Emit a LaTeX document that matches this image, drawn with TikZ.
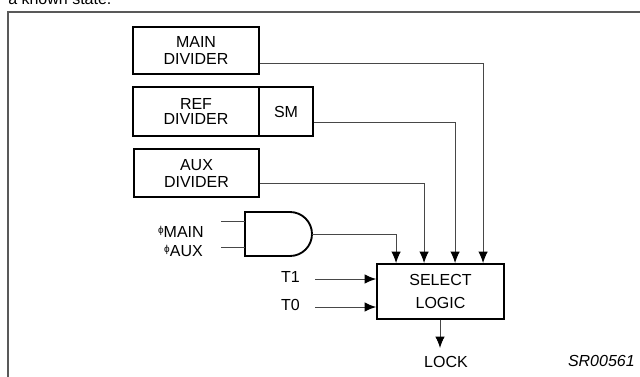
\documentclass[tikz,border=0pt]{standalone}
\usepackage{fontspec}
\setmainfont{Liberation Sans}
\usetikzlibrary{arrows.meta,calc}
\begin{document}
\begin{tikzpicture}[x=0.75pt,y=-0.75pt,
  box/.style={draw,line width=1.4pt,inner sep=0pt,align=center,
    font=\fontsize{12}{12.75}\selectfont},
  conn/.style={draw=black!72,line width=0.7pt},
  arr/.style={conn,-{Latex[length=8.5pt,width=7pt,black]}},
  lbl/.style={inner sep=0pt,font=\fontsize{12}{13}\selectfont},
  frame/.style={draw=black!65,line width=1.1pt},
  gate/.style={draw,line width=1.4pt}]
\useasboundingbox (0,0) rectangle (640,376);
\clip (0,0) rectangle (640,376);
% partial caption text at the top
\node[lbl,anchor=base west] (cap) at (8,4.5) {a known state.};
% frame
\coordinate (fbl) at (8,390);
\coordinate (ftl) at (8,12);
\coordinate (ftr) at (660,12);
\draw[frame] (fbl) -- (ftl) -- (ftr);
% boxes
\node[box,minimum width=94.5pt,minimum height=35.25pt] (main) at (196,50.5) {MAIN\\DIVIDER};
\node[box,minimum width=94.5pt,minimum height=36.75pt,font=\fontsize{12}{11.6}\selectfont] (ref) at (196,111.5) {REF\\DIVIDER};
\node[box,minimum width=40.5pt,minimum height=36.75pt] (sm) at (286,111.5) {SM};
\node[box,minimum width=93.75pt,minimum height=36pt] (aux) at (196.5,173) {AUX\\DIVIDER};
\node[box,minimum width=95.25pt,minimum height=41.25pt,font=\fontsize{12}{17.25}\selectfont] (sel) at (440.5,291.5) {SELECT\\LOGIC};
% AND gate
\draw[gate] (245,212) -- (290,212) arc[start angle=-90,end angle=90,radius=22] -- (245,256) -- cycle;
\coordinate (gout) at (312,234);
\coordinate (gin1) at (245,221);
\coordinate (gin2) at (245,247);
\coordinate (gin1s) at (221,221);
\coordinate (gin2s) at (221,247);
\node[lbl,anchor=east] (pmain) at (204,232) {\raisebox{3pt}{\fontsize{7.5}{8}\selectfont ϕ}MAIN};
\node[lbl,anchor=east] (paux) at (203,251) {\raisebox{3pt}{\fontsize{7.5}{8}\selectfont ϕ}AUX};
\draw[conn] (gin1s) -- (gin1);
\draw[conn] (gin2s) -- (gin2);
% connectors into SELECT LOGIC
\draw[arr] ($(main.south east)+(0,-11)$) -| ($(sel.north west)+(107,0)$);
\draw[arr] ($(sm.south east)+(0,-14)$) -| ($(sel.north west)+(79,0)$);
\draw[arr] ($(aux.south east)+(0,-14)$) -| ($(sel.north west)+(48,0)$);
\draw[arr] (gout) -| ($(sel.north west)+(20,0)$);
% T1, T0
\node[lbl] (t1) at (290.5,277) {T1};
\node[lbl] (t0) at (290.5,305) {T0};
\coordinate (t1s) at (315,279);
\coordinate (t0s) at (315,307);
\draw[arr] (t1s) -- (sel.west |- t1s);
\draw[arr] (t0s) -- (sel.west |- t0s);
% LOCK
\node[lbl] (lock) at (446,361.5) {LOCK};
\coordinate (lockt) at (440,348);
\draw[arr] (sel.south -| lockt) -- (lockt);
% figure id
\node[lbl,anchor=east,font=\fontsize{12}{13}\selectfont\itshape] (id) at (635,360.5) {SR00561};
\end{tikzpicture}
\end{document}
